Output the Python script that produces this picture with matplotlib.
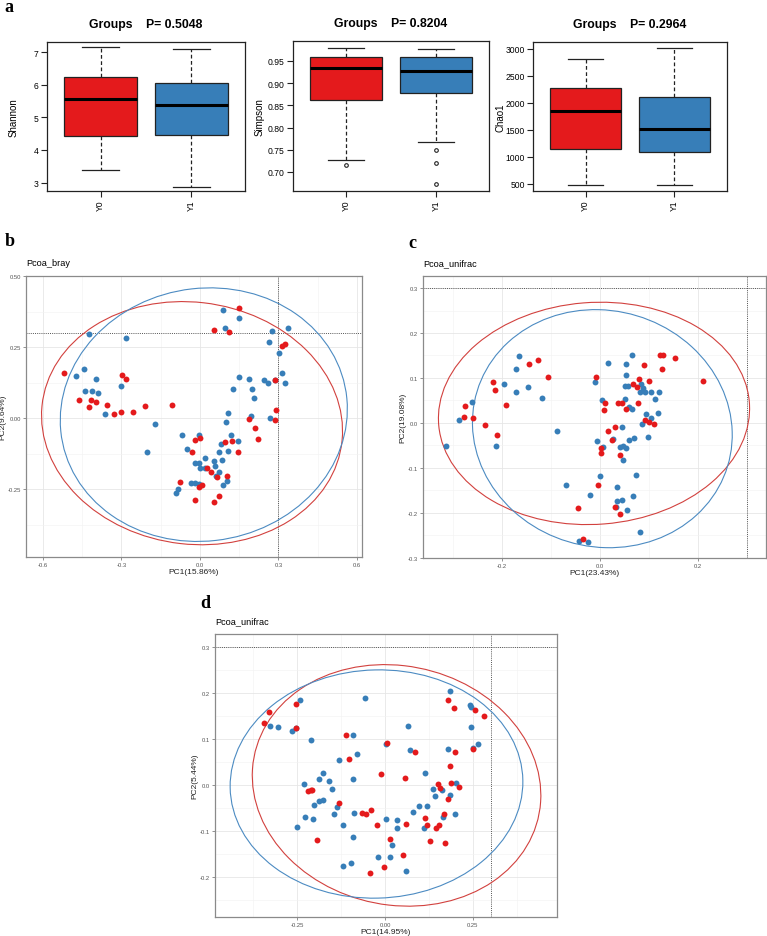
import matplotlib
matplotlib.use('Agg')
import matplotlib.pyplot as plt
from matplotlib.patches import Ellipse
import numpy as np

plt.rcParams['font.family'] = ['Liberation Sans', 'DejaVu Sans']

# ---------------- DATA ----------------
groups = ['Y0', 'Y1']
group_colors = ['#E41A1C', '#377EB8']

# Panel a: box statistics [whislo, q1, med, q3, whishi]
shannon_y0 = [3.37, 4.42, 5.57, 6.25, 7.15]
shannon_y1 = [2.87, 4.47, 5.38, 6.05, 7.10]
shannon_fliers_y0 = []
shannon_fliers_y1 = []
shannon_p = '0.5048'

simpson_y0 = [0.726, 0.862, 0.935, 0.960, 0.980]
simpson_y1 = [0.767, 0.878, 0.927, 0.958, 0.978]
simpson_fliers_y0 = [0.715]
simpson_fliers_y1 = [0.749, 0.720, 0.672]
simpson_p = '0.8204'

chao1_y0 = [480, 1150, 1840, 2270, 2810]
chao1_y1 = [465, 1090, 1505, 2105, 3010]
chao1_fliers_y0 = []
chao1_fliers_y1 = []
chao1_p = '0.2964'

# Panel b: Pcoa_bray
b_y0_x = [-0.518, -0.462, -0.425, -0.418, -0.399, -0.357, -0.327, -0.301, -0.297, -0.284,
          -0.257, -0.211, -0.106, 0.055, 0.112, 0.149, 0.289, 0.313, 0.326, 0.292,
          0.287, 0.186, 0.209, 0.222, -0.017, 0.0, -0.029, 0.145, 0.097, 0.124,
          0.029, 0.042, 0.065, 0.102, -0.075, -0.005, 0.008, -0.020, 0.055, 0.074]
b_y0_y = [0.16, 0.062, 0.038, 0.064, 0.056, 0.047, 0.013, 0.023, 0.151, 0.137,
          0.020, 0.042, 0.045, 0.311, 0.303, 0.389, 0.135, 0.255, 0.262, 0.028,
          -0.007, -0.004, -0.035, -0.075, -0.076, -0.069, -0.121, -0.119, -0.085, -0.081,
          -0.174, -0.191, -0.208, -0.205, -0.224, -0.241, -0.236, -0.290, -0.295, -0.273]
b_y1_x = [-0.473, -0.442, -0.425, -0.441, -0.414, -0.396, -0.390, -0.362, -0.303, -0.283,
          -0.173, -0.203, -0.069, -0.050, -0.004, -0.017, -0.003, 0.0, 0.019, 0.018,
          -0.034, -0.019, -0.004, -0.090, -0.083, 0.054, 0.057, 0.060, 0.074, 0.075,
          0.082, 0.085, 0.089, 0.104, 0.108, 0.106, 0.099, 0.118, 0.145, 0.127,
          0.150, 0.186, 0.201, 0.208, 0.194, 0.268, 0.246, 0.259, 0.288, 0.315,
          0.325, 0.303, 0.266, 0.274, 0.338, 0.088, 0.096, 0.149]
b_y1_y = [0.148, 0.174, 0.296, 0.095, 0.097, 0.136, 0.088, 0.016, 0.113, 0.283,
          -0.020, -0.120, -0.061, -0.108, -0.061, -0.158, -0.158, -0.174, -0.140, -0.177,
          -0.229, -0.229, -0.231, -0.262, -0.250, -0.150, -0.168, -0.203, -0.189, -0.121,
          -0.092, -0.147, -0.237, -0.222, -0.116, 0.019, -0.014, -0.058, -0.080, 0.104,
          0.143, 0.136, 0.101, 0.070, 0.009, 0.000, 0.134, 0.123, 0.133, 0.160,
          0.124, 0.228, 0.269, 0.308, 0.316, 0.380, 0.317, 0.351]
# ellipse: centre x, centre y, semi-axis x, semi-axis y, angle(deg)
b_ell_y0 = [-0.030, -0.018, 0.577, 0.426, -6]
b_ell_y1 = [0.015, 0.012, 0.550, 0.445, 6]

# Panel c: Pcoa_unifrac
c_y0_x = [-0.218, -0.215, -0.144, -0.127, -0.106, -0.276, -0.277, -0.259, -0.235, -0.210,
          -0.191, -0.008, 0.011, 0.008, 0.003, 0.002, 0.016, 0.031, 0.036, 0.046,
          0.053, 0.024, 0.042, -0.003, -0.044, 0.030, 0.041, 0.068, 0.076, 0.079,
          0.078, 0.090, 0.101, 0.093, 0.101, 0.110, 0.122, 0.129, 0.126, 0.153,
          0.210, -0.034]
c_y0_y = [0.091, 0.074, 0.131, 0.141, 0.102, 0.038, 0.014, 0.011, -0.004, -0.027,
          0.039, 0.101, 0.045, 0.029, -0.055, -0.067, -0.019, -0.010, 0.045, 0.045,
          0.031, -0.038, -0.071, -0.138, -0.190, -0.188, -0.202, 0.086, 0.080, 0.098,
          0.044, 0.128, 0.093, 0.007, 0.001, -0.002, 0.152, 0.152, 0.121, 0.144,
          0.094, -0.258]
c_y1_x = [-0.315, -0.288, -0.261, -0.213, -0.196, -0.172, -0.171, -0.165, -0.146, -0.118,
          -0.088, -0.069, -0.020, -0.009, -0.005, 0.001, 0.004, 0.007, 0.016, 0.027,
          0.035, 0.034, 0.033, 0.045, 0.046, 0.042, 0.048, 0.053, 0.048, 0.052,
          0.053, 0.054, 0.052, 0.057, 0.059, 0.060, 0.065, 0.066, 0.068, 0.056,
          0.070, 0.073, 0.082, 0.084, 0.088, 0.092, 0.085, 0.095, 0.098, 0.104,
          0.105, 0.113, 0.120, 0.118, 0.082, -0.043, -0.025]
c_y1_y = [-0.051, 0.007, 0.047, -0.051, 0.087, 0.068, 0.120, 0.148, 0.080, 0.056,
          -0.019, -0.138, -0.160, 0.092, -0.041, -0.118, 0.051, -0.054, 0.134, -0.037,
          -0.142, -0.173, -0.188, -0.171, -0.009, -0.054, -0.051, -0.056, -0.083, 0.052,
          0.132, 0.106, 0.083, 0.083, -0.039, 0.036, 0.030, 0.150, -0.162, -0.194,
          -0.034, -0.116, 0.068, 0.086, 0.077, 0.068, -0.002, 0.020, -0.032, 0.068,
          0.010, 0.054, 0.068, 0.022, -0.242, -0.264, -0.265]
c_ell_y0 = [-0.012, 0.021, 0.318, 0.247, 5]
c_ell_y1 = [0.005, -0.013, 0.272, 0.258, -45]

# Panel d: Pcoa_unifrac
d_y0_x = [-0.344, -0.329, -0.253, -0.252, -0.111, -0.101, 0.007, -0.012, 0.057, 0.085,
          -0.219, -0.211, -0.206, -0.130, -0.192, -0.066, -0.055, -0.041, -0.024, 0.015,
          0.059, 0.052, -0.003, -0.042, 0.115, 0.120, 0.127, 0.144, 0.154, 0.150,
          0.157, 0.168, 0.170, 0.180, 0.184, 0.188, 0.210, 0.199, 0.179, 0.196,
          0.256, 0.281, 0.250]
d_y0_y = [0.135, 0.159, 0.175, 0.124, 0.109, 0.056, 0.091, 0.024, 0.014, 0.072,
          -0.014, -0.012, -0.011, -0.040, -0.120, -0.061, -0.064, -0.054, -0.088, -0.118,
          -0.085, -0.152, -0.178, -0.192, -0.072, -0.086, -0.122, -0.094, -0.087, 0.001,
          -0.007, -0.063, -0.126, -0.030, 0.041, 0.005, -0.004, 0.071, 0.185, 0.167,
          0.163, 0.149, 0.079]
d_y1_x = [-0.327, -0.303, -0.265, -0.254, -0.241, -0.211, -0.057, -0.090, -0.080, -0.131,
          0.002, 0.065, 0.072, -0.231, -0.175, -0.188, -0.159, -0.150, -0.188, -0.177,
          -0.202, -0.136, -0.146, -0.226, -0.205, -0.250, -0.120, -0.092, -0.089, -0.092,
          -0.119, -0.096, -0.020, 0.013, 0.004, 0.035, 0.035, 0.020, 0.060, 0.079,
          0.096, 0.113, 0.120, 0.112, 0.137, 0.142, 0.162, 0.166, 0.186, 0.179,
          0.186, 0.201, 0.198, 0.241, 0.244, 0.244, 0.251, 0.265]
d_y1_y = [0.129, 0.125, 0.118, 0.123, 0.185, 0.098, 0.190, 0.109, 0.067, 0.055,
          0.089, 0.128, 0.075, 0.001, 0.026, 0.012, 0.009, -0.009, -0.034, -0.033,
          -0.043, -0.047, -0.064, -0.069, -0.075, -0.091, -0.086, 0.012, -0.062, -0.114,
          -0.176, -0.169, -0.157, -0.157, -0.074, -0.076, -0.094, -0.131, -0.186, -0.059,
          -0.045, 0.026, -0.046, -0.093, -0.009, -0.025, -0.010, -0.069, -0.021, 0.078,
          0.204, 0.004, -0.064, 0.174, 0.170, 0.125, 0.080, 0.090]
d_ell_y0 = [0.033, -0.001, 0.411, 0.261, -5]
d_ell_y1 = [-0.024, 0.002, 0.416, 0.248, 1]

# ---------------- FIGURE ----------------
W, H = 767, 937
fig = plt.figure(figsize=(W / 100, H / 100), dpi=100)


def add_ax(l, t, r, b):
    return fig.add_axes([l / W, 1 - b / H, (r - l) / W, (b - t) / H])


def stats_of(v, fl):
    return dict(whislo=v[0], q1=v[1], med=v[2], q3=v[3], whishi=v[4], fliers=fl)


def boxpanel(ax, width_px, s0, s1, f0, f1, ylabel, p, ylim, yticks, yfmt):
    st = [stats_of(s0, f0), stats_of(s1, f1)]
    res = ax.bxp(st, positions=[1, 2], widths=0.8, patch_artist=True,
                 boxprops=dict(edgecolor='#222222', linewidth=0.9),
                 medianprops=dict(color='black', linewidth=2.2),
                 whiskerprops=dict(color='#222222', linewidth=0.9, linestyle=(0, (3, 2))),
                 capprops=dict(color='#222222', linewidth=0.9),
                 flierprops=dict(marker='o', markersize=2.6, markerfacecolor='none',
                                 markeredgecolor='#222222', markeredgewidth=0.8))
    for patch, c in zip(res['boxes'], group_colors):
        patch.set_facecolor(c)
    ax.set_yticks(yticks)
    ax.set_yticklabels([yfmt.format(t) for t in yticks])
    ax.set_xticks([1, 2])
    ax.set_xticklabels(groups, rotation=90)
    ax.set_xlim(0.41, 2.59)
    ax.set_ylim(*ylim)
    ax.tick_params(length=4, width=0.8, labelsize=6.2, pad=2, color='#222222')
    for sp in ax.spines.values():
        sp.set_linewidth(0.9)
        sp.set_color('#222222')
    ax.set_ylabel(ylabel, fontsize=7)
    ax.yaxis.set_label_coords(-28.0 / width_px, 0.5)
    ax.set_title('Groups    P= ' + p, fontsize=8.8, fontweight='bold', pad=11)


ax1 = add_ax(47, 43, 245, 192)
boxpanel(ax1, 198, shannon_y0, shannon_y1, shannon_fliers_y0, shannon_fliers_y1, 'Shannon',
         shannon_p, (2.74, 7.31), [3, 4, 5, 6, 7], '{:d}')
ax2 = add_ax(293, 42, 489, 192)
boxpanel(ax2, 196, simpson_y0, simpson_y1, simpson_fliers_y0, simpson_fliers_y1, 'Simpson',
         simpson_p, (0.657, 0.995), [0.70, 0.75, 0.80, 0.85, 0.90, 0.95], '{:.2f}')
ax3 = add_ax(533, 43, 727, 192)
boxpanel(ax3, 194, chao1_y0, chao1_y1, chao1_fliers_y0, chao1_fliers_y1, 'Chao1',
         chao1_p, (362, 3130), [500, 1000, 1500, 2000, 2500, 3000], '{:d}')


def pcoa(ax, title, xlabel, ylabel, xlim, ylim, xticks, xfmt, yticks, yfmt,
         x0, y0, x1, y1, e0, e1):
    ax.set_xticks(xticks)
    ax.set_xticklabels([xfmt.format(t) for t in xticks])
    ax.set_yticks(yticks)
    ax.set_yticklabels([yfmt.format(t) for t in yticks])
    dx = xticks[1] - xticks[0]
    dy = yticks[1] - yticks[0]
    mx = np.arange(xticks[0] - dx / 2, xlim[1], dx)
    my = np.arange(yticks[0] - dy / 2, ylim[1], dy)
    ax.set_xticks(mx[mx > xlim[0]], minor=True)
    ax.set_yticks(my[my > ylim[0]], minor=True)
    ax.set_xlim(*xlim)
    ax.set_ylim(*ylim)
    ax.grid(True, which='major', color='#E6E6E6', linewidth=0.6)
    ax.grid(True, which='minor', color='#F2F2F2', linewidth=0.4)
    ax.tick_params(which='minor', length=0)
    ax.tick_params(which='major', length=2, width=0.5, color='#666666',
                   labelsize=4.2, labelcolor='#555555', pad=1.5)
    ax.set_axisbelow(True)
    for sp in ax.spines.values():
        sp.set_color('#8A8A8A')
        sp.set_linewidth(0.9)
    ax.axvline(0.3, color='#555555', linestyle=(0, (1, 1.2)), linewidth=0.7, zorder=1)
    ax.axhline(0.3, color='#555555', linestyle=(0, (1, 1.2)), linewidth=0.7, zorder=1)
    ax.scatter(x1, y1, s=18, color=group_colors[1], linewidths=0, zorder=3)
    ax.scatter(x0, y0, s=18, color=group_colors[0], linewidths=0, zorder=3)
    for e, c in ((e0, '#D2413E'), (e1, '#4C8BC2')):
        ax.add_patch(Ellipse((e[0], e[1]), 2 * e[2], 2 * e[3], angle=e[4],
                             fill=False, edgecolor=c, linewidth=0.8, zorder=2))
    ax.set_title(title, loc='left', fontsize=6.6, pad=8)
    ax.set_xlabel(xlabel, fontsize=6, labelpad=1, color='#222222')
    ax.set_ylabel(ylabel, fontsize=6, labelpad=1, color='#222222')


axb = add_ax(26, 277, 362, 558)
pcoa(axb, 'Pcoa_bray', 'PC1(15.86%)', 'PC2(9.64%)', (-0.665, 0.62), (-0.489, 0.5),
     [-0.6, -0.3, 0.0, 0.3, 0.6], '{:.1f}', [-0.25, 0.0, 0.25, 0.5], '{:.2f}',
     b_y0_x, b_y0_y, b_y1_x, b_y1_y, b_ell_y0, b_ell_y1)

axc = add_ax(423, 277, 766, 559)
pcoa(axc, 'Pcoa_unifrac', 'PC1(23.43%)', 'PC2(19.08%)', (-0.361, 0.339), (-0.301, 0.327),
     [-0.2, 0.0, 0.2], '{:.1f}', [-0.3, -0.2, -0.1, 0.0, 0.1, 0.2, 0.3], '{:.1f}',
     c_y0_x, c_y0_y, c_y1_x, c_y1_y, c_ell_y0, c_ell_y1)

axd = add_ax(215, 635, 557, 918)
pcoa(axd, 'Pcoa_unifrac', 'PC1(14.95%)', 'PC2(5.44%)', (-0.483, 0.489), (-0.287, 0.328),
     [-0.25, 0.0, 0.25], '{:.2f}', [-0.2, -0.1, 0.0, 0.1, 0.2, 0.3], '{:.1f}',
     d_y0_x, d_y0_y, d_y1_x, d_y1_y, d_ell_y0, d_ell_y1)

for lab, x, y in (('a', 9, 8), ('b', 10, 242), ('c', 412, 243), ('d', 205, 603)):
    fig.text(x / W, 1 - y / H, lab, fontfamily='Liberation Serif', fontweight='bold',
             fontsize=13, ha='center', va='center')

fig.savefig('out.png', dpi=100)
